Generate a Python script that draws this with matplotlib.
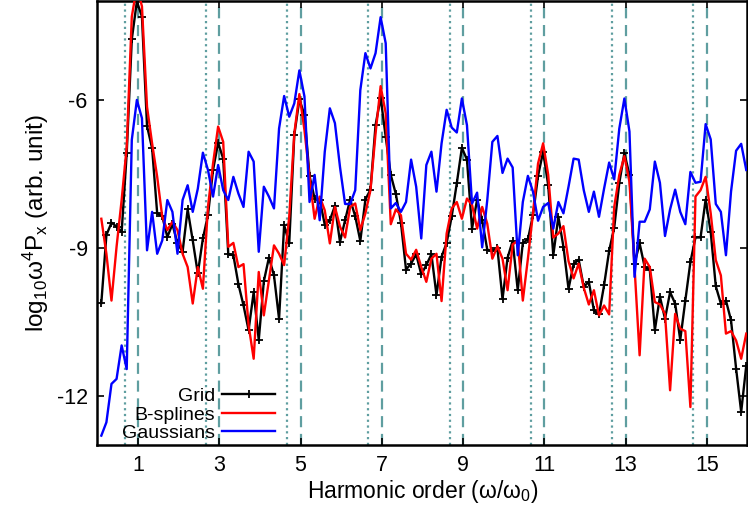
import numpy as np
import matplotlib.pyplot as plt

plt.rcParams['font.family'] = ['Liberation Sans', 'DejaVu Sans']
plt.rcParams['mathtext.default'] = 'regular'
plt.rcParams['axes.unicode_minus'] = False

# harmonic order samples (step 0.125)
omega = 0.095 + 0.125 * np.arange(128)

grid = [-10.12, -8.74, -8.49, -8.57, -8.68, -7.08, -4.77, -4.00, -4.31, -6.53,
        -6.98, -8.30, -8.36, -8.78, -8.52, -8.91, -9.08, -8.22, -8.85, -9.52,
        -8.81, -8.34, -7.42, -6.87, -7.19, -9.13, -9.15, -9.74, -10.17, -10.67,
        -9.90, -10.87, -9.68, -9.20, -9.56, -10.44, -8.54, -8.91, -6.71, -5.99,
        -6.30, -7.54, -8.00, -8.02, -8.53, -8.44, -8.15, -8.88, -8.44, -8.02,
        -8.36, -8.86, -8.02, -7.82, -6.51, -5.95, -6.75, -7.52, -7.91, -8.49,
        -9.44, -9.32, -9.13, -9.54, -9.35, -9.13, -9.96, -9.18, -8.90, -8.36,
        -7.69, -6.97, -7.21, -8.61, -8.02, -8.44, -9.04, -9.06, -9.01, -10.04,
        -9.20, -8.86, -9.86, -8.90, -8.83, -8.34, -7.54, -7.05, -7.73, -9.15,
        -8.37, -8.98, -9.83, -9.33, -9.24, -9.79, -9.69, -10.27, -10.35, -9.76,
        -9.06, -8.59, -7.68, -7.08, -7.52, -9.32, -8.91, -9.39, -9.44, -10.67,
        -9.99, -10.44, -9.90, -10.13, -10.87, -10.07, -9.29, -8.79, -8.79, -8.02,
        -8.68, -9.78, -10.13, -10.07, -10.47, -11.45, -12.33, -11.39]

bsplines = [-8.41, -9.12, -10.07, -8.98, -8.03, -6.95, -4.31, -3.70, -4.10, -6.14,
            -6.88, -7.56, -8.37, -8.64, -8.47, -8.64, -9.12, -9.39, -10.13, -9.39,
            -9.83, -8.17, -7.29, -6.54, -6.85, -8.98, -8.90, -9.39, -9.33, -10.57,
            -11.25, -9.49, -10.37, -9.66, -8.95, -9.12, -9.35, -8.37, -6.68, -5.88,
            -6.61, -7.56, -8.41, -7.96, -8.24, -8.91, -8.17, -8.57, -8.79, -8.17,
            -8.10, -8.64, -8.30, -7.83, -6.68, -5.72, -6.27, -8.52, -8.22, -8.34,
            -9.12, -9.24, -9.04, -9.39, -9.69, -9.22, -9.12, -10.08, -8.71, -8.20,
            -8.07, -8.41, -8.00, -8.13, -8.61, -8.17, -8.51, -9.22, -8.97, -9.22,
            -9.86, -8.93, -8.86, -10.07, -9.22, -8.30, -7.29, -6.88, -7.52, -8.79,
            -8.71, -8.56, -9.27, -9.62, -9.32, -9.81, -10.15, -9.86, -10.37, -10.17,
            -10.35, -8.17, -7.52, -7.14, -7.66, -9.39, -11.18, -9.22, -9.39, -10.10,
            -10.15, -10.34, -11.89, -10.34, -10.64, -10.69, -12.23, -7.96, -7.83, -7.56,
            -8.30, -9.25, -9.56, -10.74, -10.69, -10.88, -11.25, -10.74]

gaussians = [-12.81, -12.54, -11.76, -11.66, -10.98, -11.46, -6.81, -6.00, -6.37, -9.05,
             -8.27, -9.12, -8.85, -8.03, -8.27, -9.12, -8.03, -7.73, -8.27, -7.80,
             -7.07, -7.42, -7.96, -7.32, -7.83, -8.03, -7.56, -7.90, -8.17, -7.05,
             -7.25, -9.08, -7.76, -7.96, -8.20, -6.58, -5.92, -6.34, -6.07, -5.40,
             -5.93, -8.07, -7.52, -8.44, -7.05, -6.17, -6.47, -7.36, -8.11, -8.11,
             -7.83, -5.80, -5.05, -5.36, -5.05, -4.32, -4.85, -8.20, -8.09, -8.27,
             -8.07, -7.21, -7.76, -8.81, -7.32, -7.05, -7.86, -6.88, -6.20, -6.56,
             -6.66, -5.97, -6.51, -8.10, -7.88, -8.99, -8.03, -6.85, -6.73, -7.48,
             -7.19, -7.37, -9.15, -8.07, -7.54, -7.86, -8.45, -8.17, -8.09, -8.61,
             -8.07, -8.30, -7.76, -7.19, -7.21, -7.83, -8.27, -7.86, -8.37, -7.80,
             -7.27, -7.61, -6.58, -5.97, -6.64, -9.59, -8.47, -8.47, -8.22, -7.25,
             -7.68, -8.76, -8.22, -7.82, -8.27, -8.52, -7.46, -7.68, -7.66, -6.49,
             -6.80, -8.11, -8.27, -9.15, -7.86, -7.03, -6.89, -7.42]

odd_harmonics = [1, 3, 5, 7, 9, 11, 13, 15]
shifted = [0.67, 2.67, 4.67, 6.67, 8.67, 10.67, 12.67, 14.67]

teal = '#5f9ea0'

fig = plt.figure(figsize=(7.48, 5.17), dpi=100)
ax = fig.add_axes([0.1303, 0.1393, 0.869, 0.858])

for h in odd_harmonics:
    ax.axvline(h, color=teal, lw=1.6, ls=(0, (5, 3)), zorder=1)
for h in shifted:
    ax.axvline(h, color=teal, lw=1.6, ls=(0, (1, 1.6)), zorder=1)

ax.plot(omega, grid, color='black', lw=1.7, marker='+', ms=6, mew=1.3, label='Grid', zorder=3)
ax.plot(omega, bsplines, color='red', lw=1.7, label='B-splines', zorder=3)
ax.plot(omega, gaussians, color='blue', lw=1.7, label='Gaussians', zorder=3)

ax.set_xlim(0, 16)
ax.set_ylim(-13, -4)
ax.set_xticks(odd_harmonics)
ax.set_yticks([-6, -9, -12])
ax.tick_params(direction='in', length=5, width=1.2, labelsize=15.5,
               top=True, right=True, pad=7)
for s in ax.spines.values():
    s.set_linewidth(1.8)

ax.set_xlabel('Harmonic order (ω/ω$_0$)', fontsize=16.5, labelpad=2)
ax.set_ylabel('log$_{10}$ω$^4$P$_x$ (arb. unit)', fontsize=17.5, labelpad=4)

ax.legend(loc='lower left', bbox_to_anchor=(0.02, -0.02), frameon=False,
          markerfirst=False, fontsize=14, handlelength=2.75,
          handletextpad=0.35, labelspacing=0.05, borderaxespad=0.2)

fig.savefig('out.png', dpi=100)
